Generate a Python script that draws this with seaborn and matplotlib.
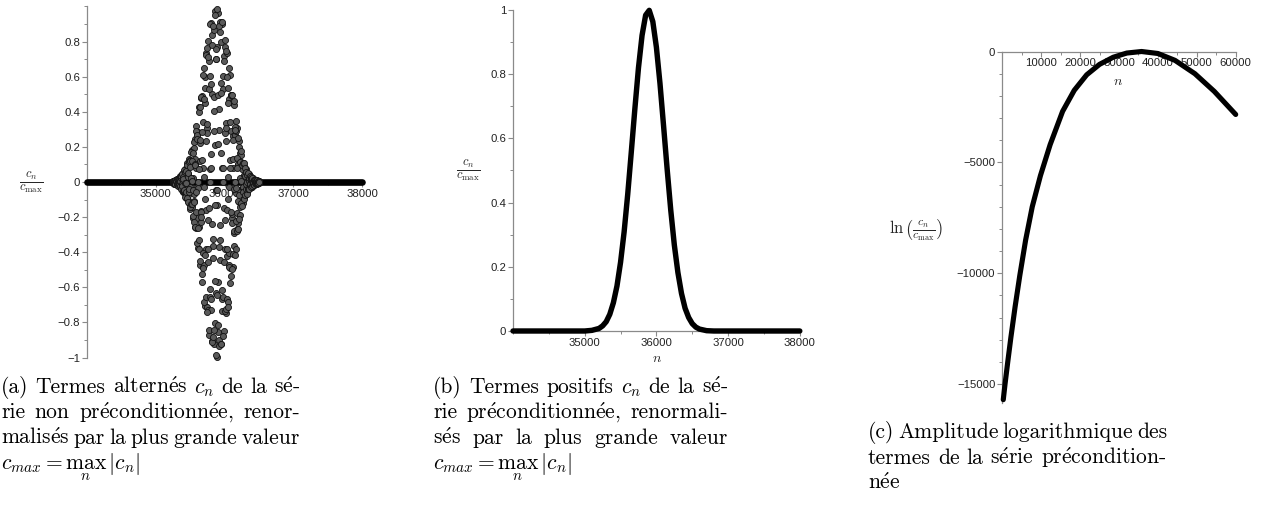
import matplotlib
matplotlib.use("Agg")
import matplotlib.pyplot as plt
import seaborn as sns
from matplotlib.ticker import MultipleLocator

# ---------------- data: panel (a) alternating terms (normalised) ----------------
# two interleaved samplings of the point cloud
a1_n = list(range(35250, 36501, 5))
a1_values = [
    0.005, -0.004, 0.001, 0.005, -0.009, 0.008, -0.003, -0.006, 0.012, -0.013,
    0.006, 0.005, -0.016, 0.019, -0.012, -0.003, 0.018, -0.025, 0.019, -0.001,
    -0.019, 0.033, -0.029, 0.008, 0.021, -0.043, 0.043, -0.020, -0.018, 0.051,
    -0.058, 0.034, 0.012, -0.057, 0.076, -0.054, 0.000, 0.059, -0.092, 0.076,
    -0.017, -0.056, 0.106, -0.102, 0.041, 0.048, -0.118, 0.129, -0.070, -0.031,
    0.123, -0.155, 0.104, 0.007, -0.124, 0.181, -0.144, 0.025, 0.115, -0.207,
    0.195, -0.071, -0.106, 0.243, -0.259, 0.133, 0.078, -0.263, 0.320, -0.206,
    -0.030, 0.267, -0.375, 0.286, -0.035, -0.254, 0.427, -0.379, 0.121, 0.223,
    -0.470, 0.477, -0.226, -0.166, 0.491, -0.569, 0.344, 0.081, -0.485, 0.649,
    -0.471, 0.030, 0.450, -0.708, 0.597, -0.160, -0.379, 0.736, -0.712, 0.306,
    0.277, -0.729, 0.805, -0.453, -0.149, 0.687, -0.874, 0.601, 0.000, -0.612,
    0.908, -0.728, 0.161, 0.499, -0.903, 0.835, -0.324, -0.365, 0.868, -0.920,
    0.485, 0.210, -0.801, 0.972, -0.633, -0.044, 0.702, -0.995, 0.766, -0.130,
    -0.570, 0.965, -0.853, 0.295, 0.414, -0.900, 0.912, -0.444, -0.247, 0.795,
    -0.920, 0.563, 0.080, -0.668, 0.898, -0.655, 0.077, 0.530, -0.847, 0.717,
    -0.218, -0.383, 0.771, -0.748, 0.338, 0.236, -0.664, 0.732, -0.421, -0.094,
    0.536, -0.682, 0.471, -0.029, -0.407, 0.611, -0.491, 0.127, 0.288, -0.537,
    0.498, -0.206, -0.180, 0.455, -0.483, 0.261, 0.082, -0.362, 0.441, -0.290,
    0.000, 0.270, -0.382, 0.291, -0.061, -0.179, 0.306, -0.266, 0.098, 0.104,
    -0.233, 0.232, -0.114, -0.046, 0.164, -0.189, 0.117, 0.008, -0.117, 0.156,
    -0.113, 0.018, 0.075, -0.121, 0.102, -0.033, -0.044, 0.091, -0.087, 0.040,
    0.021, -0.064, 0.072, -0.042, -0.006, 0.046, -0.059, 0.041, -0.005, -0.030,
    0.044, -0.036, 0.011, 0.018, -0.035, 0.032, -0.014, -0.009, 0.025, -0.026,
    0.014, 0.003, -0.017, 0.021, -0.014, 0.001, 0.011, -0.016, 0.012, -0.003,
    -0.006, 0.011, -0.010, 0.004, 0.003, -0.008, 0.008, -0.004, -0.001, 0.005,
    -0.005,
]
a2_n = list(range(35252, 36503, 5))
a2_values = [
    0.000, 0.004, -0.007, 0.006, -0.002, -0.005, 0.011, -0.011, 0.004, 0.005,
    -0.014, 0.016, -0.009, -0.004, 0.017, -0.022, 0.015, 0.001, -0.019, 0.028,
    -0.023, 0.004, 0.021, -0.038, 0.036, -0.014, -0.020, 0.047, -0.051, 0.026,
    0.016, -0.054, 0.067, -0.044, -0.007, 0.059, -0.084, 0.065, -0.008, -0.058,
    0.099, -0.089, 0.028, 0.053, -0.113, 0.116, -0.055, -0.041, 0.121, -0.142,
    0.086, 0.020, -0.124, 0.169, -0.124, 0.008, 0.121, -0.192, 0.164, -0.046,
    -0.113, 0.227, -0.227, 0.101, 0.094, -0.255, 0.290, -0.168, -0.057, 0.268,
    -0.349, 0.245, 0.000, -0.262, 0.398, -0.331, 0.075, 0.242, -0.451, 0.428,
    -0.171, -0.198, 0.483, -0.525, 0.284, 0.126, -0.491, 0.611, -0.407, -0.029,
    0.472, -0.682, 0.536, -0.094, -0.418, 0.725, -0.656, 0.232, 0.332, -0.739,
    0.762, -0.380, -0.216, 0.711, -0.843, 0.528, 0.076, -0.655, 0.900, -0.668,
    0.079, 0.559, -0.909, 0.783, -0.242, -0.435, 0.890, -0.881, 0.405, 0.290,
    -0.840, 0.951, -0.561, -0.129, 0.755, -0.988, 0.702, -0.044, -0.643, 0.987,
    -0.813, 0.214, 0.493, -0.936, 0.886, -0.373, -0.332, 0.852, -0.920, 0.506,
    0.163, -0.734, 0.912, -0.613, 0.000, 0.601, -0.876, 0.690, -0.150, -0.456,
    0.811, -0.736, 0.280, 0.310, -0.725, 0.747, -0.384, -0.162, 0.600, -0.711,
    0.450, 0.030, -0.472, 0.649, -0.485, 0.081, 0.344, -0.573, 0.498, -0.169,
    -0.233, 0.497, -0.494, 0.237, 0.130, -0.410, 0.464, -0.278, -0.039, 0.316,
    -0.414, 0.295, -0.033, -0.224, 0.345, -0.281, 0.082, 0.139, -0.269, 0.250,
    -0.109, -0.073, 0.198, -0.209, 0.115, 0.025, -0.140, 0.174, -0.117, 0.007,
    0.095, -0.138, 0.106, -0.027, -0.059, 0.106, -0.095, 0.038, 0.032, -0.076,
    0.077, -0.041, -0.013, 0.055, -0.066, 0.042, 0.000, -0.038, 0.052, -0.038,
    0.008, 0.023, -0.040, 0.035, -0.013, -0.013, 0.030, -0.030, 0.015, 0.006,
    -0.020, 0.023, -0.014, -0.001, 0.014, -0.018, 0.013, -0.002, -0.008, 0.013,
    -0.010, 0.003, 0.004, -0.009, 0.009, -0.004, -0.002, 0.006, -0.006, 0.003,
    0.000,
]
a_tail_n = [34000, 38000]
a_tail_y = [0.0, 0.0]
a_xticks = [35000, 36000, 37000, 38000]
a_xticklabels = ["35000", "36000", "37000", "38000"]
a_yticks = [-1, -0.8, -0.6, -0.4, -0.2, 0, 0.2, 0.4, 0.6, 0.8]
a_yticklabels = ["\u22121", "\u22120.8", "\u22120.6", "\u22120.4", "\u22120.2",
                 "0", "0.2", "0.4", "0.6", "0.8"]

# ---------------- data: panel (b) positive terms (normalised) ----------------
b_n = [34000, 35000, 35100, 35200, 35250, 35300, 35350, 35400, 35450, 35500,
       35550, 35600, 35650, 35700, 35750, 35800, 35850, 35900, 35950, 36000,
       36050, 36100, 36150, 36200, 36250, 36300, 36350, 36400, 36450, 36500,
       36550, 36600, 36700, 36800, 38000]
b_y = [0.0, 0.000, 0.002, 0.008, 0.016, 0.029, 0.052, 0.088, 0.140, 0.214,
       0.309, 0.426, 0.558, 0.693, 0.820, 0.921, 0.984, 0.999, 0.964, 0.884,
       0.771, 0.639, 0.504, 0.377, 0.268, 0.182, 0.117, 0.071, 0.042, 0.023,
       0.012, 0.006, 0.001, 0.000, 0.0]
b_xticks = [35000, 36000, 37000, 38000]
b_xticklabels = ["35000", "36000", "37000", "38000"]
b_yticks = [0, 0.2, 0.4, 0.6, 0.8, 1]
b_yticklabels = ["0", "0.2", "0.4", "0.6", "0.8", "1"]

# ---------------- data: panel (c) log amplitude ----------------
c_n = [250, 700, 1400, 2200, 3300, 4500, 6000, 7700, 9800, 12300, 15500,
       18500, 21700, 25000, 28500, 32000, 35800, 40000, 44400, 49500, 54500, 60000]
c_y = [-15700, -15000, -14000, -12900, -11500, -10100, -8500, -7000, -5600,
       -4200, -2700, -1750, -1050, -580, -260, -70, 0, -90, -400, -1000, -1800, -2840]
c_xticks = [10000, 20000, 30000, 40000, 50000, 60000]
c_xticklabels = ["10000", "20000", "30000", "40000", "50000", "60000"]
c_yticks = [-15000, -10000, -5000, 0]
c_yticklabels = ["\u221215000", "\u221210000", "\u22125000", "0"]

# ---------------- captions ----------------
E = r"$\mathrm{\acute{e}}$"
FORMULA = r"$c_{max} = \max_{n}\, |c_n\!|$"
cap_a = [
    ["(a)", "Termes", "altern" + E + "s", "$c_n$", "de", "la", "s" + E + "-"],
    ["rie", "non", "pr" + E + "conditionn" + E + "e,", "renor-"],
    ["malis" + E + "s", "par", "la", "plus", "grande", "valeur"],
    [FORMULA],
]
cap_b = [
    ["(b)", "Termes", "positifs", "$c_n$", "de", "la", "s" + E + "-"],
    ["rie", "pr" + E + "conditionn" + E + "e,", "renormali-"],
    ["s" + E + "s", "par", "la", "plus", "grande", "valeur"],
    [FORMULA],
]
cap_c = [
    ["(c)", "Amplitude", "logarithmique", "des"],
    ["termes", "de", "la", "s" + E + "rie", "pr" + E + "condition-"],
    ["n" + E + "e"],
]

# ---------------- style ----------------
sns.set_theme(style="white")
plt.rcParams["font.family"] = ["Liberation Sans", "DejaVu Sans"]
plt.rcParams["mathtext.fontset"] = "cm"

W, H = 1273, 525
fig = plt.figure(figsize=(W / 100, H / 100), dpi=100)
fig.patch.set_facecolor("white")

AX_COLOR = "#8a8a8a"
TICK_FS = 8.2


def px_axes(left, top, right, bottom):
    return fig.add_axes([left / W, 1 - bottom / H, (right - left) / W, (bottom - top) / H])


def style(ax):
    ax.set_facecolor("none")
    for s in ("top", "right"):
        ax.spines[s].set_visible(False)
    for s in ("left", "bottom"):
        ax.spines[s].set_color(AX_COLOR)
        ax.spines[s].set_linewidth(0.9)
    ax.tick_params(which="major", direction="out", length=3.5, width=0.8,
                   color=AX_COLOR, labelsize=TICK_FS, pad=1.5, labelcolor="#222222",
                   left=True, bottom=True)
    ax.tick_params(which="minor", direction="out", length=2.2, width=0.7,
                   color=AX_COLOR, left=True, bottom=True)
    ax.set_xlabel("")
    ax.set_ylabel("")


# ---- panel (a)
ax_a = px_axes(87, 6.4, 362, 357.6)
sns.lineplot(x=a_tail_n, y=a_tail_y, ax=ax_a, color="black", linewidth=4.8,
             solid_capstyle="round", zorder=4, errorbar=None)
for xs, ys in ((a1_n, a1_values), (a2_n, a2_values)):
    sns.scatterplot(x=xs, y=ys, ax=ax_a, marker="o", s=19, color="#5a5a5a",
                    edgecolor="#111111", linewidth=0.6, zorder=5, legend=False)
ax_a.set_xlim(34000, 38000)
ax_a.set_ylim(-1, 1)
style(ax_a)
ax_a.spines["bottom"].set_position(("data", 0))
ax_a.set_xticks(a_xticks, a_xticklabels)
ax_a.set_yticks(a_yticks, a_yticklabels)
ax_a.xaxis.set_minor_locator(MultipleLocator(500))
ax_a.yaxis.set_minor_locator(MultipleLocator(0.1))
for art in ax_a.lines + ax_a.collections:
    art.set_clip_on(False)

# ---- panel (b)
ax_b = px_axes(513, 10, 799.8, 331)
sns.lineplot(x=b_n, y=b_y, ax=ax_b, color="black", linewidth=3.9,
             solid_capstyle="round", solid_joinstyle="round", zorder=5, errorbar=None)
ax_b.set_xlim(34000, 38000)
ax_b.set_ylim(0, 1)
style(ax_b)
ax_b.set_xticks(b_xticks, b_xticklabels)
ax_b.set_yticks(b_yticks, b_yticklabels)
ax_b.xaxis.set_minor_locator(MultipleLocator(500))
ax_b.yaxis.set_minor_locator(MultipleLocator(0.1))
for art in ax_b.lines:
    art.set_clip_on(False)

# ---- panel (c)
ax_c = px_axes(1002.3, 51.5, 1235.7, 403)
sns.lineplot(x=c_n, y=c_y, ax=ax_c, color="black", linewidth=3.7,
             solid_capstyle="round", solid_joinstyle="round", zorder=5, errorbar=None)
ax_c.set_xlim(0, 60000)
ax_c.set_ylim(-15850, 0)
style(ax_c)
ax_c.spines["bottom"].set_position(("data", 0))
ax_c.set_xticks(c_xticks, c_xticklabels)
ax_c.set_yticks(c_yticks, c_yticklabels)
ax_c.xaxis.set_minor_locator(MultipleLocator(5000))
ax_c.yaxis.set_minor_locator(MultipleLocator(1000))
for art in ax_c.lines:
    art.set_clip_on(False)


# ---- axis titles (Maple style)
def ftext(x, y, s, size, **kw):
    return fig.text(x / W, 1 - y / H, s, fontsize=size, ha="center", va="center", **kw)


ftext(31, 182, r"$\frac{c_n}{c_{\max}}$", 13)
ftext(468, 170, r"$\frac{c_n}{c_{\max}}$", 13)
ftext(916, 230, r"$\ln\left(\frac{c_n}{c_{\max}}\right)$", 12)
ftext(657, 358, r"$n$", 10)
ftext(1118, 81, r"$n$", 10)

# ---- justified captions
CAP_FS = 15.5
renderer = fig.canvas.get_renderer()


def caption(lines, x0, x1, baselines):
    em = CAP_FS * 100 / 72
    for i, toks in enumerate(lines):
        yb = 1 - baselines[i] / H
        texts = [fig.text(0, yb, t, fontsize=CAP_FS, family="cmr10",
                          ha="left", va="baseline", color="black") for t in toks]
        widths = [t.get_window_extent(renderer).width for t in texts]
        last = (i == len(lines) - 1) or len(toks) == 1
        if last:
            gap = em * 0.333
        else:
            gap = max(em * 0.18, (x1 - x0 - sum(widths)) / (len(toks) - 1))
        x = x0
        for t, w in zip(texts, widths):
            t.set_x(x / W)
            x += w + gap


caption(cap_a, 1, 300, [393, 418.5, 444, 469.5])
caption(cap_b, 433, 728, [393, 418.5, 444, 469.5])
caption(cap_c, 868, 1166, [438, 463.5, 489])

fig.savefig("out.png", dpi=100, facecolor="white")
